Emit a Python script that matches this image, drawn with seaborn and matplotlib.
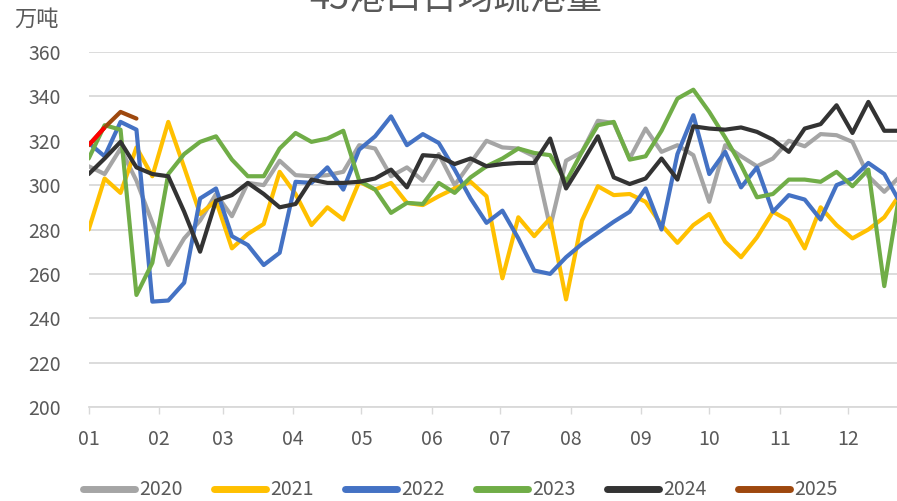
import matplotlib
matplotlib.use('Agg')
import matplotlib.pyplot as plt
import seaborn as sns
import numpy as np
import pandas as pd
from matplotlib.lines import Line2D

# 45港口日均疏港量 (万吨), 周度数据
y2020 = [308.5, 305, 316.5, 302, 283, 264, 276, 284, 296, 286, 301, 300, 311, 304.5, 304, 304.5, 306,
         318, 316.5, 304, 308, 302, 314, 300, 310, 320, 317, 316.5, 313, 281, 311, 315, 329, 328, 312,
         325.5, 315, 318, 313.5, 292.5, 318, 313, 308.5, 312, 320, 317.5, 323, 322.5, 319.5, 304, 297, 304]
y2021 = [280, 303, 296.5, 317, 304, 328.5, 308, 287, 293, 271.5, 278, 282.5, 306, 296, 282, 290, 284.5,
         301.5, 298, 301, 292, 291, 295, 298.5, 301.5, 295, 258, 285.5, 277, 285, 248.5, 284, 299.5, 295.5,
         296, 292.5, 282, 274, 282, 287, 274.5, 267.5, 276.5, 288, 284, 271.5, 290, 282, 276, 280, 285.5, 296]
y2022 = [319, 313, 328.5, 325, 247.5, 248, 256, 294, 298.5, 277, 273, 264, 269.5, 301.5, 301, 308, 298,
         316, 322, 331, 318, 323, 319, 307, 294, 283, 288.5, 276, 261.5, 260, 267.5, 273.5, 278.5, 283.5,
         288, 298.5, 280, 314, 331.5, 305, 315, 299, 308, 288, 295.5, 293.5, 284.5, 300, 303, 310, 305, 292]
y2023 = [312, 327, 325, 250.5, 265, 305, 314, 319.5, 322, 311.5, 304, 304, 316.5, 323.5, 319.5, 321, 324.5,
         302, 298, 287.5, 292, 291.5, 301, 296.5, 303.5, 308.5, 312, 316.5, 314.5, 313.5, 301.5, 315, 327,
         328.5, 311.5, 313, 324.5, 339, 343, 333, 321.5, 309, 294.5, 296, 302.5, 302.5, 301.5, 306, 299.5,
         307, 254.5, 298]
y2024 = [305, 312, 319.5, 308, 305, 304, 288, 270, 293, 295.5, 301, 296, 290, 291.5, 302.5, 301, 301,
         301.5, 303, 307, 299, 313.5, 313, 309.5, 312, 308.5, 309.5, 310, 310, 321, 298.5, 310, 322, 303.5,
         300.5, 303, 312, 302.5, 326.5, 325.5, 325, 326, 324, 320.5, 315, 325.5, 327.5, 336, 323.5, 337.5,
         324.5, 324.5]
y2025 = [318, 326, 333, 330]

years = ['2020', '2021', '2022', '2023', '2024', '2025']
series = [y2020, y2021, y2022, y2023, y2024, y2025]
colors = ['#A5A5A5', '#FFC000', '#4472C4', '#70AD47', '#333333', '#9E480E']

month_days = [0, 31, 59, 90, 120, 151, 181, 212, 243, 273, 304, 334]
month_labels = ['01', '02', '03', '04', '05', '06', '07', '08', '09', '10', '11', '12']

rows = []
for yr, vals in zip(years, series):
    for i, v in enumerate(vals):
        rows.append({'year': yr, 'day': i * 7, 'value': v})
df = pd.DataFrame(rows)

sns.set_theme(style='white')
plt.rcParams['font.family'] = ['Noto Sans CJK SC', 'DejaVu Sans']

fig = plt.figure(figsize=(8.97, 5.01), dpi=100)
ax = fig.add_axes([0.0989, 0.1876, 0.9011, 0.7086])

sns.lineplot(data=df, x='day', y='value', hue='year', palette=colors, hue_order=years,
             linewidth=3.0, ax=ax, legend=False, sort=False)
for line in ax.lines:
    line.set_solid_joinstyle('round')

# 2025年第一段标红
d25 = df[df['year'] == '2025'].iloc[:2]
ax.plot(d25['day'], d25['value'], color='#FF0000', linewidth=3.0, solid_capstyle='butt')

ax.set_xlim(0, 355.6)
ax.set_ylim(200, 360)
ax.set_yticks(np.arange(200, 361, 20))
ax.set_xticks(month_days)
ax.set_xticklabels(month_labels)
ax.grid(axis='y', color='#D9D9D9', linewidth=1.3)
ax.set_axisbelow(True)
for s in ['top', 'right', 'left']:
    ax.spines[s].set_visible(False)
ax.spines['bottom'].set_color('#D9D9D9')
ax.spines['bottom'].set_linewidth(1.3)
ax.tick_params(axis='y', length=0, pad=20, labelsize=14, labelcolor='#595959')
ax.tick_params(axis='x', length=5, width=1, color='#D9D9D9', direction='out', pad=11,
               labelsize=14, labelcolor='#595959', bottom=True)
ax.set_xlabel('')
ax.set_ylabel('')

fig.text(0.016, 0.962, '万吨', fontsize=16, color='#595959', va='center', ha='left')
fig.text(0.508, 1.002, '45港口日均疏港量', fontsize=26, color='#595959', va='center', ha='center')

handles = [Line2D([0], [0], color=c, linewidth=5, solid_capstyle='round') for c in colors]
fig.legend(handles, years, loc='center', bbox_to_anchor=(0.513, 0.022), ncol=6, frameon=False,
           fontsize=14, labelcolor='#595959', handlelength=2.7, handletextpad=0.2, columnspacing=1.6)

fig.savefig('out.png', dpi=100)
